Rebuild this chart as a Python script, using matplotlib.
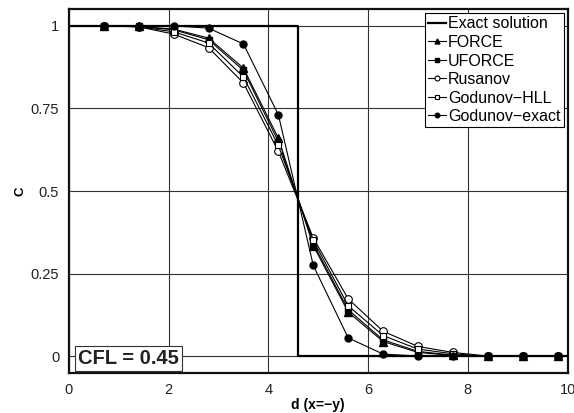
import matplotlib
matplotlib.use("Agg")
import matplotlib.pyplot as plt

plt.rcParams['font.family'] = ['Liberation Sans', 'DejaVu Sans']

# Sample locations along the diagonal
d = [0.7, 1.4, 2.1, 2.8, 3.5, 4.2, 4.9, 5.6, 6.3, 7.0, 7.7, 8.4, 9.1, 9.8]

# Exact step solution
exact_d = [0.0, 4.6, 4.6, 10.0]
exact_c = [1.0, 1.0, 0.0, 0.0]

force = [1.0, 0.998, 0.99, 0.963, 0.872, 0.660, 0.335, 0.134, 0.045, 0.012, 0.003, 0.0, 0.0, 0.0]
uforce = [1.0, 0.998, 0.988, 0.958, 0.865, 0.650, 0.341, 0.141, 0.050, 0.015, 0.004, 0.0, 0.0, 0.0]
rusanov = [1.0, 0.997, 0.975, 0.934, 0.827, 0.620, 0.358, 0.174, 0.076, 0.030, 0.012, 0.001, 0.0, 0.0]
hll = [1.0, 0.997, 0.982, 0.948, 0.845, 0.638, 0.351, 0.153, 0.063, 0.022, 0.008, 0.0, 0.0, 0.0]
god_exact = [1.0, 1.0, 1.0, 0.993, 0.945, 0.731, 0.275, 0.056, 0.007, 0.001, 0.0, 0.0, 0.0, 0.0]

xticks = [0, 2, 4, 6, 8, 10]
yticks = [0, 0.25, 0.5, 0.75, 1]
yticklabels = ['0', '0.25', '0.5', '0.75', '1']

fig = plt.figure(figsize=(5.74, 4.13), dpi=100)
ax = fig.add_axes([0.120, 0.097, 0.869, 0.8805])

ax.plot(exact_d, exact_c, color='black', lw=1.6, label='Exact solution', zorder=3)
ax.plot(d, force, marker='^', mfc='black', mec='black', ms=5.5, lw=0.8, color='black',
        label='FORCE', zorder=4)
ax.plot(d, uforce, marker='s', mfc='black', mec='black', ms=4.5, lw=0.8, color='black',
        label='UFORCE', zorder=4)
ax.plot(d, rusanov, marker='o', mfc='white', mec='black', mew=0.8, ms=5.5, lw=0.8,
        color='black', label='Rusanov', zorder=4)
ax.plot(d, hll, marker='s', mfc='white', mec='black', mew=0.8, ms=4.5, lw=0.8, color='black',
        label='Godunov\u2212HLL', zorder=4)
ax.plot(d, god_exact, marker='o', mfc='black', mec='black', ms=5, lw=0.8, color='black',
        label='Godunov\u2212exact', zorder=4)

ax.set_xlim(0, 10)
ax.set_ylim(-0.05, 1.05)
ax.set_xticks(xticks)
ax.set_yticks(yticks)
ax.set_yticklabels(yticklabels)
ax.tick_params(length=0, labelsize=10.5, labelcolor='#222222', pad=7)
ax.grid(True, color='#333333', lw=0.8)
ax.set_axisbelow(True)
for sp in ax.spines.values():
    sp.set_linewidth(1.6)
    sp.set_color('#111111')

ax.set_xlabel('d (x=\u2212y)', fontsize=10, fontweight='bold', labelpad=1)
ax.set_ylabel('C', fontsize=9.5, fontweight='bold', labelpad=3)

leg = ax.legend(loc='upper right', fontsize=11.5, frameon=True, fancybox=False,
                handlelength=1.1, handletextpad=0.15, borderpad=0.2, labelspacing=0.22,
                borderaxespad=0.25, markerscale=0.65)
leg.get_frame().set_edgecolor('black')
leg.get_frame().set_linewidth(0.8)
leg.get_frame().set_alpha(1)

ax.text(0.018, 0.013, 'CFL = 0.45', transform=ax.transAxes, fontsize=14.5,
        fontweight='bold', color='#222222', ha='left', va='bottom', zorder=6,
        bbox=dict(boxstyle='square,pad=0.15', fc='white', ec='#333333', lw=0.8))

fig.savefig('out.png', dpi=100)
